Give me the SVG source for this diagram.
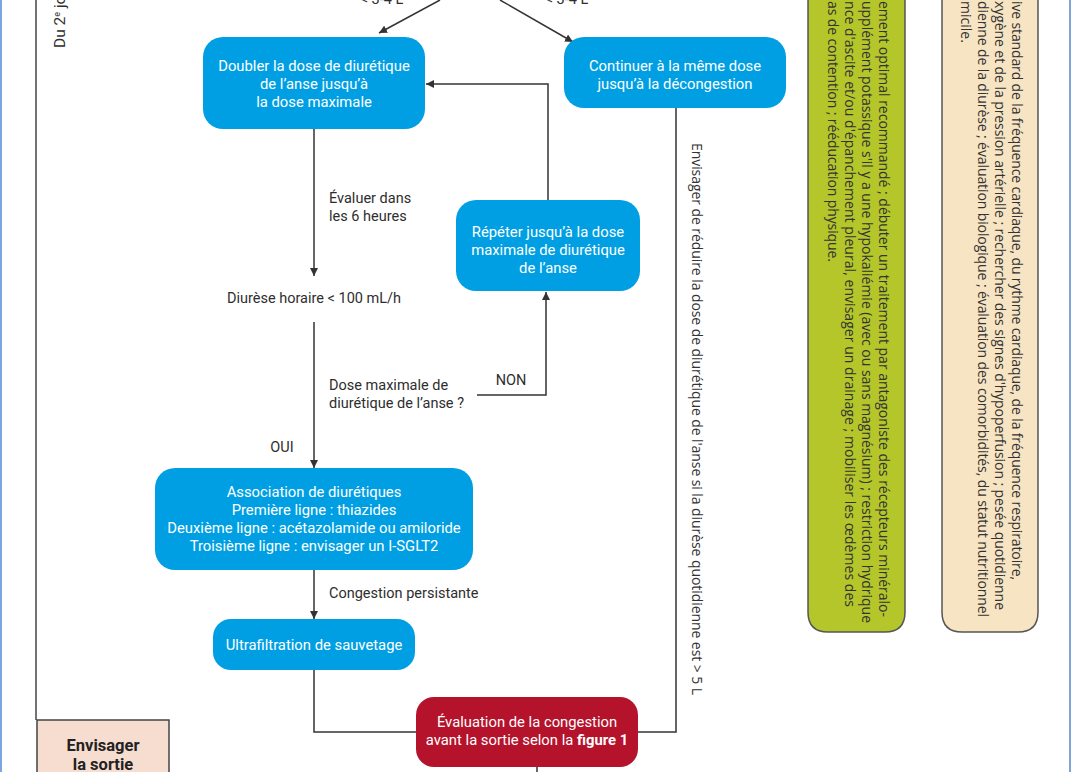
<svg xmlns="http://www.w3.org/2000/svg" width="1072" height="772" viewBox="0 0 1072 772">
<defs>
<marker id="arr" viewBox="0 0 10 10" refX="10" refY="5" markerWidth="8" markerHeight="8" markerUnits="userSpaceOnUse" orient="auto">
<path d="M0,0 L10,5 L0,10 z" fill="#333"/>
</marker>
<style>
.blue{fill:#009fe3;}
.red{fill:#b5122b;}
.wt{fill:#fff;font-family:Roboto,"Liberation Sans",sans-serif;font-size:14.8px;text-anchor:middle;}
.lb{fill:#2e2e2e;font-family:Roboto,"Liberation Sans",sans-serif;font-size:14.5px;}
.ln{fill:none;stroke:#333;stroke-width:1.5;}
.side{font-family:"Open Sans","DejaVu Sans",sans-serif;font-size:14px;fill:#333;}
.bt{fill:#222;font-family:Roboto,"Liberation Sans",sans-serif;font-size:16.5px;font-weight:bold;text-anchor:middle;}
</style>
</defs>
<rect x="0" y="0" width="1072" height="772" fill="#fff"/>
<line x1="1" y1="0" x2="1" y2="772" stroke="#7ea6dc" stroke-width="2"/>
<line x1="1070" y1="0" x2="1070" y2="772" stroke="#7ea6dc" stroke-width="2"/>

<g id="frame">
<line x1="36" y1="0" x2="36" y2="720" stroke="#444" stroke-width="1.5"/>
<text class="lb" style="font-size:15.5px" transform="translate(65,48) rotate(-90)">Du 2<tspan style="font-size:9px" baseline-shift="super">e</tspan> jo</text>
</g>

<g id="connectors">
<line class="ln" x1="440" y1="0" x2="379" y2="33" marker-end="url(#arr)"/>
<line class="ln" x1="500" y1="0" x2="573" y2="42" marker-end="url(#arr)"/>
<line class="ln" x1="314" y1="129" x2="314" y2="276" marker-end="url(#arr)"/>
<line class="ln" x1="314" y1="322" x2="314" y2="468" marker-end="url(#arr)"/>
<polyline class="ln" points="477,395 546,395 546,292" marker-end="url(#arr)"/>
<polyline class="ln" points="548,200 548,84 426,84" marker-end="url(#arr)"/>
<line class="ln" x1="314" y1="570" x2="314" y2="619" marker-end="url(#arr)"/>
<polyline class="ln" points="314,670 314,732 416,732"/>
<polyline class="ln" points="638,732 676,732 676,108"/>
<line class="ln" x1="537" y1="767" x2="537" y2="772"/>
<text class="lb" x="382" y="4" text-anchor="middle">&lt; 3-4 L</text>
<text class="lb" x="567" y="4" text-anchor="middle">&lt; 3-4 L</text>
<text class="lb" x="329" y="203">Évaluer dans</text>
<text class="lb" x="329" y="221">les 6 heures</text>
<text class="lb" x="329" y="390">Dose maximale de</text>
<text class="lb" x="329" y="408">diurétique de l’anse ?</text>
<text class="lb" x="511" y="385" text-anchor="middle">NON</text>
<text class="lb" x="282" y="452" text-anchor="middle">OUI</text>
<text class="lb" x="329" y="598">Congestion persistante</text>
<text class="side" transform="translate(692,143) rotate(90)" textLength="552" lengthAdjust="spacing">Envisager de réduire la dose de diurétique de l'anse si la diurèse quotidienne est &gt; 5 L</text>
</g>

<g id="n-doubler">
<rect class="blue" x="203" y="37" width="222" height="92" rx="20"/>
<text class="wt" x="314" y="71">Doubler la dose de diurétique</text>
<text class="wt" x="314" y="89">de l’anse jusqu’à</text>
<text class="wt" x="314" y="107">la dose maximale</text>
</g>

<g id="n-continuer">
<rect class="blue" x="564" y="37" width="222" height="71" rx="20"/>
<text class="wt" x="675" y="71">Continuer à la même dose</text>
<text class="wt" x="675" y="89">jusqu’à la décongestion</text>
</g>

<g id="n-diurese">
<text class="lb" x="314" y="303" text-anchor="middle">Diurèse horaire &lt; 100 mL/h</text>
</g>

<g id="n-repeter">
<rect class="blue" x="456" y="200" width="184" height="91" rx="20"/>
<text class="wt" x="548" y="237">Répéter jusqu’à la dose</text>
<text class="wt" x="548" y="255">maximale de diurétique</text>
<text class="wt" x="548" y="273">de l’anse</text>
</g>

<g id="n-association">
<rect class="blue" x="155" y="468" width="318" height="102" rx="20"/>
<text class="wt" x="314" y="497">Association de diurétiques</text>
<text class="wt" x="314" y="515">Première ligne : thiazides</text>
<text class="wt" x="314" y="533">Deuxième ligne : acétazolamide ou amiloride</text>
<text class="wt" x="314" y="551">Troisième ligne : envisager un I-SGLT2</text>
</g>

<g id="n-ultra">
<rect class="blue" x="213" y="619" width="202" height="51" rx="18"/>
<text class="wt" x="314" y="650">Ultrafiltration de sauvetage</text>
</g>

<g id="n-evaluation">
<rect class="red" x="416" y="697" width="222" height="70" rx="18"/>
<text class="wt" x="527" y="727">Évaluation de la congestion</text>
<text class="wt" x="527" y="745">avant la sortie selon la <tspan font-weight="bold">figure 1</tspan></text>
</g>

<g id="n-sortie">
<rect x="37" y="720" width="132" height="60" fill="#f6ddd0" stroke="#444" stroke-width="1.5"/>
<text class="bt" x="103" y="751">Envisager</text>
<text class="bt" x="103" y="770">la sortie</text>
</g>

<g id="n-green">
<path d="M808,-5 L905,-5 L905,612 Q905,632 885,632 L828,632 Q808,632 808,612 Z" fill="#b4c62a" stroke="#555" stroke-width="1.5"/>
<text class="side" transform="translate(879,1) rotate(90)" textLength="616" lengthAdjust="spacing">ement optimal recommandé ; débuter un traitement par antagoniste des récepteurs minéralo-</text>
<text class="side" transform="translate(862,1) rotate(90)" textLength="622" lengthAdjust="spacing">upplément potassique s'il y a une hypokaliémie (avec ou sans magnésium) ; restriction hydrique</text>
<text class="side" transform="translate(845,1) rotate(90)" textLength="606" lengthAdjust="spacing">nce d'ascite et/ou d'épanchement pleural, envisager un drainage ; mobiliser les œdèmes des</text>
<text class="side" transform="translate(828,1) rotate(90)" textLength="261" lengthAdjust="spacing">as de contention ; rééducation physique.</text>
</g>

<g id="n-beige">
<path d="M942,-5 L1038,-5 L1038,612 Q1038,632 1018,632 L962,632 Q942,632 942,612 Z" fill="#f7e4c3" stroke="#555" stroke-width="1.5"/>
<text class="side" transform="translate(1012,1) rotate(90)" textLength="579" lengthAdjust="spacing">ive standard de la fréquence cardiaque, du rythme cardiaque, de la fréquence respiratoire,</text>
<text class="side" transform="translate(995,1) rotate(90)" textLength="609" lengthAdjust="spacing">xygène et de la pression artérielle ; rechercher des signes d'hypoperfusion ; pesée quotidienne</text>
<text class="side" transform="translate(978,1) rotate(90)" textLength="616" lengthAdjust="spacing">dienne de la diurèse ; évaluation biologique ; évaluation des comorbidités, du statut nutritionnel</text>
<text class="side" transform="translate(961,1) rotate(90)">micile.</text>
</g>
</svg>
